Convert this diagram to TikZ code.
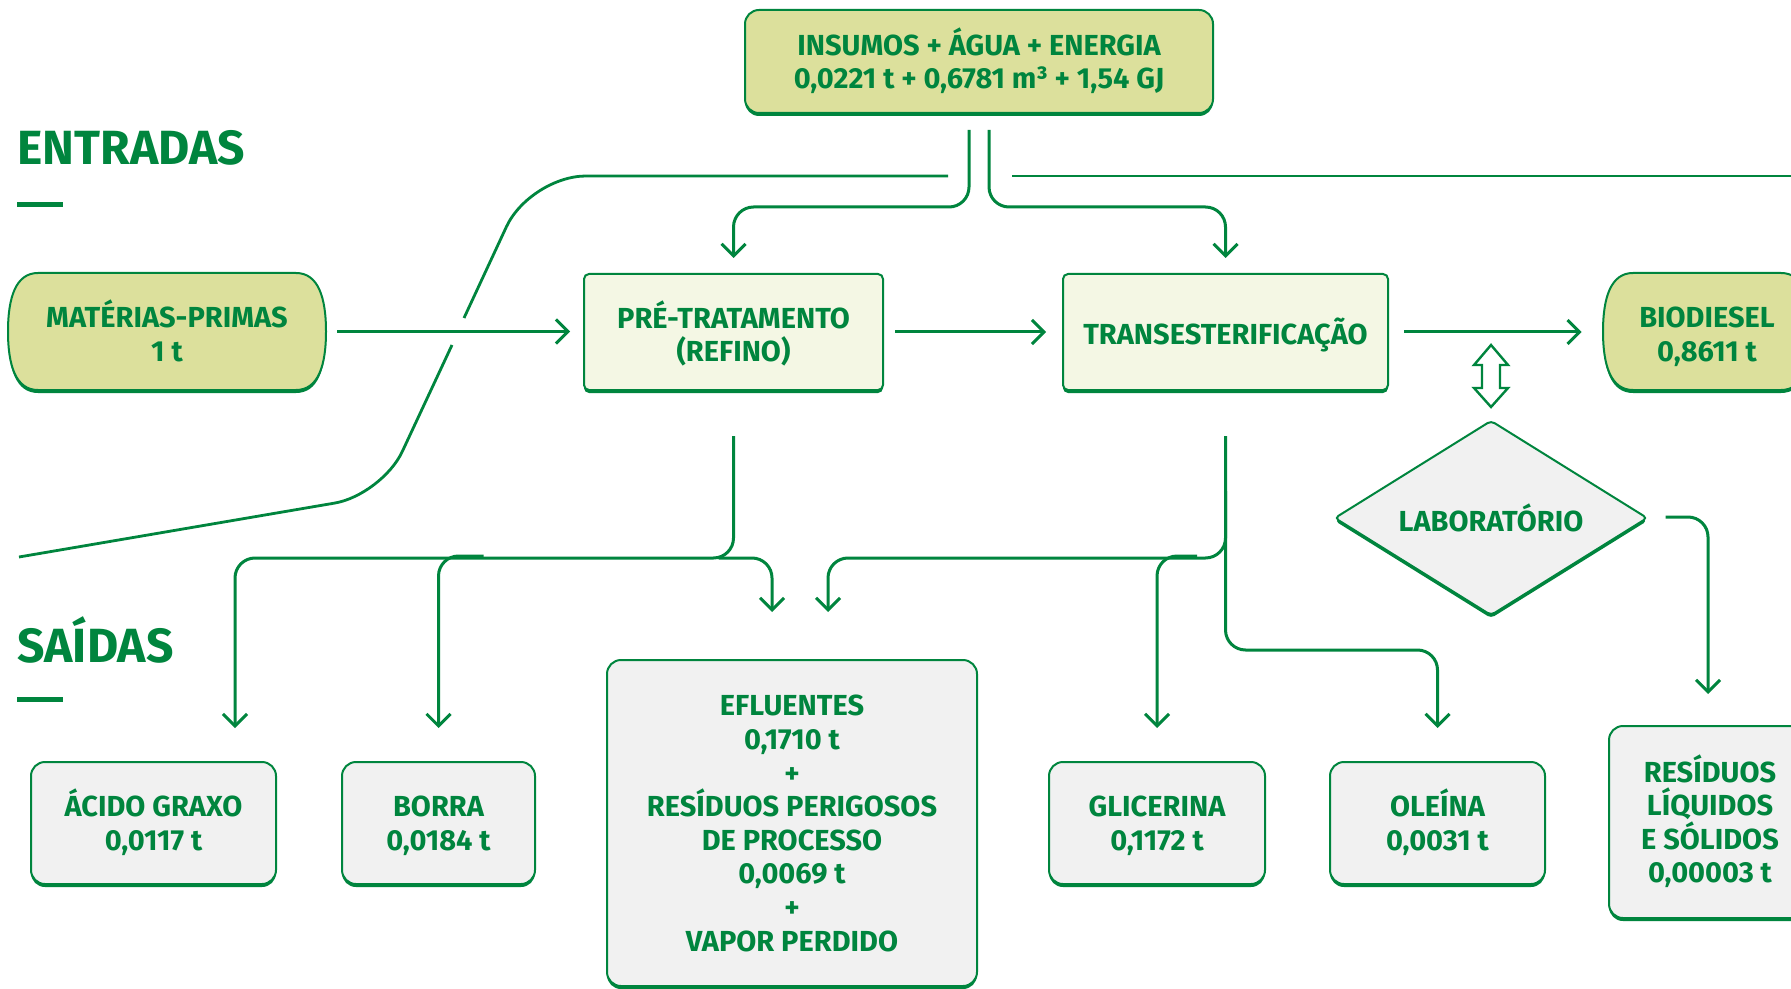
\documentclass[tikz,border=0pt]{standalone}
\usepackage{fontspec}
\setmainfont{Fira Sans}
\usetikzlibrary{arrows.meta,calc,shapes.geometric,shadows}
\definecolor{G}{RGB}{0,133,62}
\definecolor{Khaki}{RGB}{220,224,156}
\definecolor{Light}{RGB}{244,247,228}
\definecolor{Gray}{RGB}{241,241,241}
\newcommand\TS{\rule{0pt}{14pt}}
\newcommand\TSrow{\rule{0pt}{16.5pt}}
\newcommand\BS{\rule[-3.5pt]{0pt}{3.5pt}}
\newcommand\stad[4]{(#1+30,#2) -- (#3-30,#2) .. controls (#3-8,#2) and (#3,#2+24) .. (#3,{(#2+#4)/2}) .. controls (#3,#4-24) and (#3-8,#4) .. (#3-30,#4) -- (#1+30,#4) .. controls (#1+8,#4) and (#1,#4-24) .. (#1,{(#2+#4)/2}) .. controls (#1,#2+24) and (#1+8,#2) .. (#1+30,#2) -- cycle}
\begin{document}
\begin{tikzpicture}[x=0.5pt,y=-0.5pt,
  conn/.style={draw=G, line width=1.5pt, rounded corners=10pt},
  arr/.style={-{Straight Barb[length=6pt,width=12pt]}},
  sep/.style={draw=G, line width=1.4pt},
  txt/.style={text=G, font=\fontsize{14.5}{16.8}\selectfont\bfseries, align=center, inner sep=0pt},
  head/.style={text=G, font=\fontsize{24}{24}\selectfont\bfseries, inner sep=0pt, anchor=base west},
  boxbase/.style={txt, draw=G, line width=1pt, general shadow={fill=G, shadow yshift=-1.5pt}},
  iobox/.style={boxbase, fill=Khaki, rounded corners=7pt},
  procbox/.style={boxbase, fill=Light, rounded corners=2.5pt},
  outbox/.style={boxbase, fill=Gray, rounded corners=7pt},
  stadshape/.style={fill=Khaki, draw=G, line width=1pt}
]
\useasboundingbox (0,0) rectangle (1791,989);
\fill[white] (0,0) rectangle (1791,989);
\clip (0,0) rectangle (1791,989);

% separator lines
\draw[sep, rounded corners=28pt] (948,176) -- (530,176) -- (464,318);
\draw[sep, rounded corners=24pt] (452,345) -- (382,495) -- (19,557);
\draw[sep] (1012,176) -- (1791,176);

% headings
\node[head] (entradas) at (17,165) {ENTRADAS};
\node[head] (saidas) at (17,662) {SAÍDAS};
\fill[G] (17,202) rectangle (63,207);
\fill[G] (17,697) rectangle (63,702);

% stadium shapes
\fill[G] \stad{8}{276}{326}{393};
\draw[stadshape] \stad{8}{273}{326}{390};
\fill[G] \stad{1603}{276}{1811}{393};
\draw[stadshape] \stad{1603}{273}{1811}{390};

% nodes
\node[iobox, minimum width=234pt, minimum height=51.5pt] (top) at (979,61.5) {\TS INSUMOS + ÁGUA + ENERGIA\\0,0221 t + 0,6781 m³ + 1,54 GJ\BS};
\node[txt, minimum width=159pt, minimum height=58.5pt] (mp) at (167,331.5) {\TSrow MATÉRIAS-PRIMAS\\1 t\BS};
\node[procbox, minimum width=149.5pt, minimum height=58pt] (pre) at (733.5,332) {\TSrow PRÉ-TRATAMENTO\\(REFINO)\BS};
\node[procbox, minimum width=162.5pt, minimum height=58pt] (tra) at (1225.5,332) {\TSrow TRANSESTERIFICAÇÃO\BS};
\node[txt, minimum width=104pt, minimum height=58.5pt] (bio) at (1707,331.5) {\TSrow BIODIESEL\\0,8611 t\BS};
\node[txt, diamond, aspect=1.6, draw=G, line width=1pt, fill=Gray, rounded corners=2pt,
      general shadow={fill=G, shadow yshift=-1.5pt},
      minimum width=156.5pt, minimum height=97.5pt] (lab) at (1491,518) {LABORATÓRIO};
\node[outbox, minimum width=122.5pt, minimum height=61pt] (acido) at (153.5,823) {\TS ÁCIDO GRAXO\\0,0117 t\BS};
\node[outbox, minimum width=96.5pt, minimum height=61pt] (borra) at (438.5,823) {\TS BORRA\\0,0184 t\BS};
\node[outbox, minimum width=185pt, minimum height=163pt] (eflu) at (792,823) {\TS EFLUENTES\\0,1710 t\\+\\RESÍDUOS PERIGOSOS\\DE PROCESSO\\0,0069 t\\+\\VAPOR PERDIDO\BS};
\node[outbox, minimum width=108pt, minimum height=61pt] (glic) at (1157,823) {\TS GLICERINA\\0,1172 t\BS};
\node[outbox, minimum width=107.5pt, minimum height=61pt] (olei) at (1437.5,823) {\TS OLEÍNA\\0,0031 t\BS};
\node[outbox, minimum width=101pt, minimum height=96pt] (resid) at (1710,822) {\TS RESÍDUOS\\LÍQUIDOS\\E SÓLIDOS\\0,00003 t\BS};

% double arrow between transesterificacao and laboratorio
\filldraw[fill=white, draw=G, line width=1.2pt, line join=miter] (1491,345) -- (1508,365) -- (1500,365) -- (1500,388) -- (1508,388) -- (1491,407) -- (1474,388) -- (1482,388) -- (1482,365) -- (1474,365) -- cycle;

% connectors from top
\draw[conn,arr] ($(top.south)+(-10,16)$) -- ++(0,77) -| ($(pre.north)+(0,-15)$);
\draw[conn,arr] ($(top.south)+(10,16)$) -- ++(0,77) -| ($(tra.north)+(0,-15)$);

% main flow
\draw[conn,arr] ($(mp.east)+(11,0)$) -- ($(pre.west)+(-13,-0.5)$);
\draw[conn,arr] ($(pre.east)+(11,0)$) -- ($(tra.west)+(-16,0)$);
\draw[conn,arr] ($(tra.east)+(15,0)$) -- ($(bio.west)+(-21,0.5)$);

% outputs of pre-tratamento
\draw[conn,arr] ($(pre.south)+(0,45)$) -- ($(pre.south)+(0,167)$) -| ($(acido.north)+(81.5,-33)$);
\draw[conn,arr] ($(borra.north)+(45,-205)$) -| ($(borra.north)+(0,-33)$);
\draw[conn,arr] ($(pre.south)+(-15,167)$) -| ($(eflu.north)+(-20,-47)$);

% outputs of transesterificacao
\draw[conn,arr] ($(tra.south)+(0,45)$) -- ($(tra.south)+(0,259)$) -| ($(olei.north)+(0,-33)$);
\draw[conn,arr] ($(tra.south)+(0,100)$) -- ($(tra.south)+(0,167)$) -| ($(eflu.north)+(36,-47)$);
\draw[conn,arr] ($(glic.north)+(40,-205)$) -| ($(glic.north)+(0,-33)$);

% laboratorio output
\draw[conn,arr] ($(lab.east)+(17,-1)$) -| ($(resid.north)+(-2,-31)$);
\end{tikzpicture}
\end{document}
